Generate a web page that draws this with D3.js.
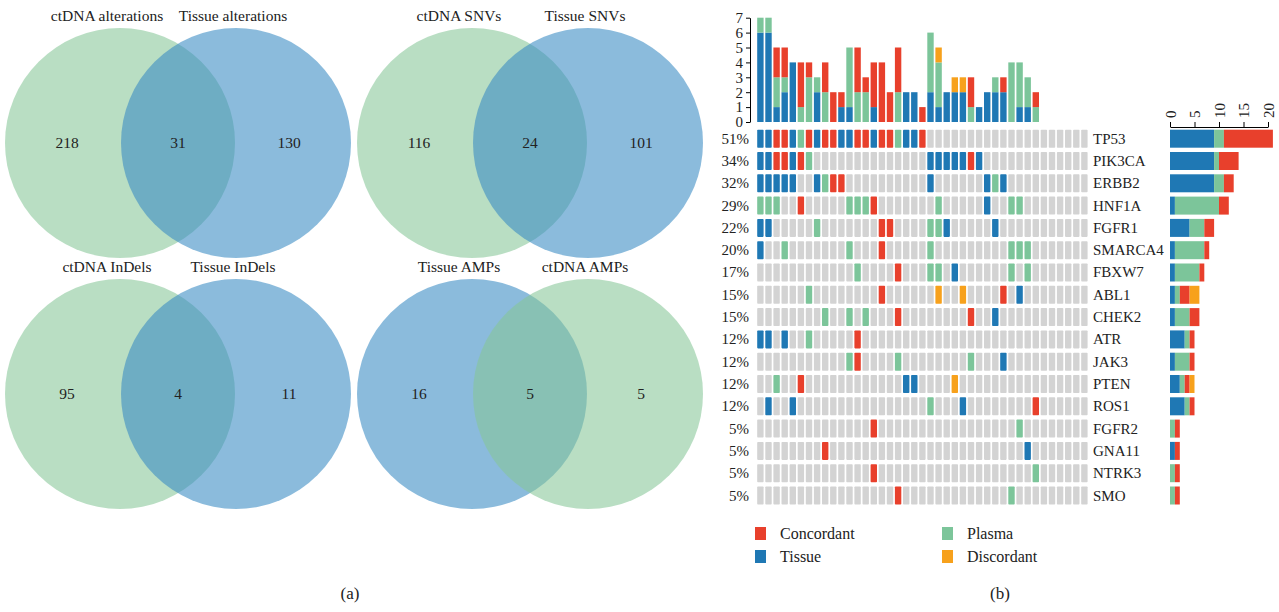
<!DOCTYPE html>
<html>
<head>
<meta charset="utf-8">
<script src="https://cdn.jsdelivr.net/npm/d3@7"></script>
<style>
  body { margin: 0; background: #fff; }
  text { font-family: "Liberation Serif", "DejaVu Serif", serif; fill: #222; }
</style>
</head>
<body>
<svg id="chart" width="1279" height="612"></svg>
<script>
// ---- venn data (panel a) ----
const vennLeftNames = ["ctDNA alterations", "ctDNA SNVs", "ctDNA InDels", "Tissue AMPs"];
const vennRightNames = ["Tissue alterations", "Tissue SNVs", "Tissue InDels", "ctDNA AMPs"];
const vennOnlyLeft = [218, 116, 95, 16];
const vennBoth = [31, 24, 4, 5];
const vennOnlyRight = [130, 101, 11, 5];
const vennLeftKind = ["ctdna", "ctdna", "ctdna", "tissue"];

// ---- oncoprint data (panel b) ----
const genes = ["TP53", "PIK3CA", "ERBB2", "HNF1A", "FGFR1", "SMARCA4", "FBXW7", "ABL1",
  "CHEK2", "ATR", "JAK3", "PTEN", "ROS1", "FGFR2", "GNA11", "NTRK3", "SMO"];
const genePct = ["51%", "34%", "32%", "29%", "22%", "20%", "17%", "15%", "15%",
  "12%", "12%", "12%", "12%", "5%", "5%", "5%", "5%"];
const nSamples = 41;
// one char per sample: T tissue, P plasma, C concordant, D discordant, . none
const sampleRows = [
  "TTCCTPCTCCTTCCTCCPTTC",
  "TTCCTCP..............TTTTTCT",
  "TTTTT..TPCC..........T......TPT",
  "PPP..C.....PPPC.......P.....T..PP",
  "TT.....P.......CC....PPT.....T",
  "T..P.......P...C.....P.........PPP",
  "............P....C...PP.T......P.P",
  "......P........C......D..D....C.T",
  "........P..P.P...C........C..T",
  "TT.T..P.....C",
  "...........PC....P........P...T",
  "..P..C............TT....D",
  ".T..T................P...T........C",
  "..............C.................P",
  "........C........................T",
  "..............C...................P",
  ".................C.............P"
];
const kinds = ["T", "P", "C", "D"];
const kindNames = { T: "Tissue", P: "Plasma", C: "Concordant", D: "Discordant" };
const kindColor = { T: "#1f78b4", P: "#7cc59a", C: "#e8402c", D: "#f7a11c" };
const emptyColor = "#d3d3d3";
const topTicks = [0, 1, 2, 3, 4, 5, 6, 7];
const rightTicks = [0, 5, 10, 15, 20];

const svg = d3.select("#chart");
svg.append("rect").attr("width", 1279).attr("height", 612).attr("fill", "#fff");

// ---------- panel a: venns ----------
const vennFill = { ctdna: "rgb(135,198,152)", tissue: "rgb(55,138,195)" };
const R = 115;
const vennCol = d3.scaleOrdinal().domain([0, 1]).range([120, 472]);
const vennRow = d3.scaleOrdinal().domain([0, 1]).range([143, 394]);

vennOnlyLeft.forEach((v, i) => {
  const cxL = vennCol(i % 2), cy = vennRow(Math.floor(i / 2));
  const cxR = cxL + 116;
  const leftKind = vennLeftKind[i];
  const rightKind = leftKind === "ctdna" ? "tissue" : "ctdna";
  const g = svg.append("g");
  g.append("circle").attr("cx", cxL).attr("cy", cy).attr("r", R)
    .attr("fill", vennFill[leftKind]).attr("fill-opacity", 0.58);
  g.append("circle").attr("cx", cxR).attr("cy", cy).attr("r", R)
    .attr("fill", vennFill[rightKind]).attr("fill-opacity", 0.58);

  g.append("text").attr("x", cxL - 13).attr("y", cy - 122)
    .attr("text-anchor", "middle").attr("font-size", 15.5).text(vennLeftNames[i]);
  g.append("text").attr("x", cxR - 3).attr("y", cy - 122)
    .attr("text-anchor", "middle").attr("font-size", 15.5).text(vennRightNames[i]);

  const nums = [[cxL - 53, vennOnlyLeft[i]], [(cxL + cxR) / 2, vennBoth[i]], [cxR + 53, vennOnlyRight[i]]];
  nums.forEach(([x, n]) => {
    g.append("text").attr("x", x).attr("y", cy + 5)
      .attr("text-anchor", "middle").attr("font-size", 15.5).text(n);
  });
});

svg.append("text").attr("x", 350).attr("y", 599).attr("text-anchor", "middle")
  .attr("font-size", 17).text("(a)");
svg.append("text").attr("x", 1000).attr("y", 599).attr("text-anchor", "middle")
  .attr("font-size", 17).text("(b)");

// ---------- panel b: oncoprint ----------
const grid = sampleRows.map(s => s.padEnd(nSamples, "."));
const cols = d3.range(nSamples);

const x = d3.scaleBand().domain(cols).range([757.2, 1087.6]).paddingInner(0.21).paddingOuter(0);
const y = d3.scaleBand().domain(genes).range([129.7, 504.5]).paddingInner(0.193).paddingOuter(0);

// cells
const cells = [];
genes.forEach((gName, gi) => {
  cols.forEach(c => cells.push({ gene: gName, col: c, k: grid[gi][c] }));
});
svg.append("g").selectAll("rect").data(cells).join("rect")
  .attr("x", d => x(d.col)).attr("y", d => y(d.gene))
  .attr("width", x.bandwidth()).attr("height", y.bandwidth())
  .attr("rx", 0.8)
  .attr("fill", d => d.k === "." ? emptyColor : kindColor[d.k]);

// row labels
svg.append("g").selectAll("text").data(genes).join("text")
  .attr("x", 749).attr("y", d => y(d) + y.bandwidth() / 2 + 5)
  .attr("text-anchor", "end").attr("font-size", 15)
  .text((d, i) => genePct[i]);
svg.append("g").selectAll("text").data(genes).join("text")
  .attr("x", 1093).attr("y", d => y(d) + y.bandwidth() / 2 + 5)
  .attr("font-size", 15).text(d => d);

// top stacked bars: counts per sample
const colCounts = cols.map(c => {
  const o = { col: c };
  kinds.forEach(k => { o[k] = grid.filter(r => r[c] === k).length; });
  return o;
});
const yTop = d3.scaleLinear().domain([0, 7]).range([122, 17.7]);
const colStack = d3.stack().keys(kinds)(colCounts);
svg.append("g").selectAll("g").data(colStack).join("g")
  .attr("fill", s => kindColor[s.key])
  .selectAll("rect").data(s => s.filter(d => d[1] > d[0])).join("rect")
  .attr("x", d => x(d.data.col)).attr("width", x.bandwidth())
  .attr("y", d => yTop(d[1])).attr("height", d => yTop(d[0]) - yTop(d[1]));

const topAxis = svg.append("g").attr("transform", "translate(750,0)")
  .call(d3.axisLeft(yTop).tickValues(topTicks).tickFormat(d3.format("d")).tickSize(4).tickSizeOuter(0));
topAxis.selectAll("text").attr("font-size", 15).attr("fill", "#222")
  .style("font-family", "Liberation Serif, serif");

// right stacked bars: counts per gene
const geneCounts = genes.map((gName, gi) => {
  const o = { gene: gName };
  kinds.forEach(k => { o[k] = grid[gi].split("").filter(ch => ch === k).length; });
  return o;
});
const xRight = d3.scaleLinear().domain([0, 20]).range([1170, 1268]);
const geneStack = d3.stack().keys(kinds)(geneCounts);
svg.append("g").selectAll("g").data(geneStack).join("g")
  .attr("fill", s => kindColor[s.key])
  .selectAll("rect").data(s => s.filter(d => d[1] > d[0])).join("rect")
  .attr("y", d => y(d.data.gene)).attr("height", y.bandwidth())
  .attr("x", d => xRight(d[0])).attr("width", d => xRight(d[1]) - xRight(d[0]));

const rightAxis = svg.append("g").attr("transform", "translate(0,127)")
  .call(d3.axisTop(xRight).tickValues(rightTicks).tickSize(5).tickSizeOuter(0));
rightAxis.selectAll("text")
  .attr("font-size", 15).attr("fill", "#222")
  .style("font-family", "Liberation Serif, serif")
  .attr("transform", "rotate(-90)")
  .attr("x", 9).attr("y", 0).attr("dy", "0.35em")
  .attr("text-anchor", "start");

// legend
const legendKinds = ["C", "T", "P", "D"];
const legX = d3.scaleOrdinal().domain(legendKinds).range([755, 755, 942, 942]);
const legY = d3.scaleOrdinal().domain(legendKinds).range([534, 557, 534, 557]);
const leg = svg.append("g").selectAll("g").data(legendKinds).join("g")
  .attr("transform", d => `translate(${legX(d)},${legY(d)})`);
leg.append("rect").attr("x", 0).attr("y", -7).attr("width", 11).attr("height", 13)
  .attr("fill", d => kindColor[d]);
leg.append("text").attr("x", 25).attr("y", 5).attr("font-size", 16).text(d => kindNames[d]);
</script>
</body>
</html>
